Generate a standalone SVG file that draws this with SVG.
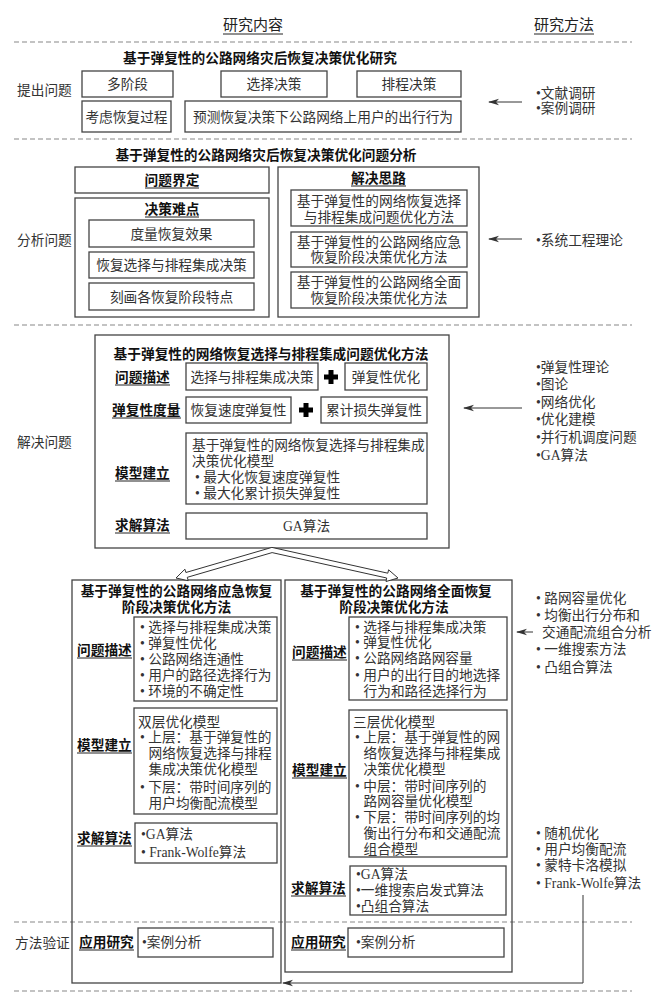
<svg xmlns="http://www.w3.org/2000/svg" width="670" height="1000" viewBox="0 0 670 1000">
<defs>
<style>
.t{font-family:"Liberation Serif","Noto Sans CJK SC",serif;font-size:13.7px;fill:#333}
.c{text-anchor:middle}
.b{font-family:"Liberation Sans","Noto Sans CJK SC",sans-serif;font-weight:bold;font-size:13.7px;fill:#111}
.h{font-family:"Liberation Serif","Noto Sans CJK SC",serif;font-size:15px;fill:#222}
.box{fill:#fff;stroke:#444;stroke-width:1.3}
.frame{fill:none;stroke:#444;stroke-width:1.3}
.ul{stroke:#222;stroke-width:1}
.dash{stroke:#888;stroke-width:1.2;stroke-dasharray:5 3;fill:none}
.conn{stroke:#333;stroke-width:1;fill:none}
.plus{stroke:#000;stroke-width:5;fill:none}
</style>
<marker id="ah" markerWidth="11" markerHeight="8" refX="10" refY="4" orient="auto" markerUnits="userSpaceOnUse"><path d="M0,0.8 L11,4 L0,7.2 L3,4 z" fill="#333"/></marker>
</defs>
<rect x="0" y="0" width="670" height="1000" fill="#fff"/>

<g id="separators">
<line class="dash" x1="14" y1="42" x2="632" y2="42"/>
<line class="dash" x1="14" y1="139" x2="632" y2="139"/>
<line class="dash" x1="14" y1="325" x2="632" y2="325"/>
<line class="dash" x1="14" y1="922" x2="632" y2="922"/>
<line class="dash" x1="14" y1="991" x2="632" y2="991"/>
</g>

<g id="header">
<text class="h c" x="253" y="30">研究内容</text>
<line class="ul" x1="223" y1="34" x2="283" y2="34"/>
<text class="h c" x="564" y="30">研究方法</text>
<line class="ul" x1="534" y1="34" x2="594" y2="34"/>
</g>

<g id="stage-labels">
<text class="t" x="17" y="95">提出问题</text>
<text class="t" x="17" y="245">分析问题</text>
<text class="t" x="17" y="447">解决问题</text>
<text class="t" x="15" y="948">方法验证</text>
</g>

<!-- Section 1 -->
<g id="title-research"><text class="b c" x="260" y="63">基于弹复性的公路网络灾后恢复决策优化研究</text></g>
<g id="n-multistage"><rect class="box" x="82" y="71" width="91" height="26"/><text class="t c" x="127.5" y="89">多阶段</text></g>
<g id="n-selection"><rect class="box" x="221" y="71" width="106" height="26"/><text class="t c" x="274" y="89">选择决策</text></g>
<g id="n-scheduling"><rect class="box" x="357" y="71" width="104" height="26"/><text class="t c" x="409" y="89">排程决策</text></g>
<g id="n-process"><rect class="box" x="82" y="101" width="89" height="31"/><text class="t c" x="126.5" y="121.5">考虑恢复过程</text></g>
<g id="n-predict"><rect class="box" x="185" y="101" width="276" height="31"/><text class="t c" x="323" y="121.5">预测恢复决策下公路网络上用户的出行行为</text></g>
<g id="m-1"><text class="t" x="536" y="98">•文献调研</text><text class="t" x="536" y="113">•案例调研</text></g>

<!-- Section 2 -->
<g id="title-analysis"><text class="b c" x="266" y="160">基于弹复性的公路网络灾后恢复决策优化问题分析</text></g>
<g id="n-definition"><rect class="box" x="75" y="167" width="194" height="26"/><text class="b c" x="172" y="185">问题界定</text><line class="ul" x1="145" y1="188" x2="199" y2="188"/></g>
<g id="n-difficulty">
<rect class="box" x="75" y="198" width="194" height="119"/>
<text class="b c" x="172" y="214">决策难点</text><line class="ul" x1="145" y1="217" x2="199" y2="217"/>
<rect class="box" x="89" y="220" width="165" height="27"/><text class="t c" x="171.5" y="238.5">度量恢复效果</text>
<rect class="box" x="89" y="252" width="165" height="26"/><text class="t c" x="171.5" y="270">恢复选择与排程集成决策</text>
<rect class="box" x="89" y="283" width="165" height="27"/><text class="t c" x="171.5" y="301.5">刻画各恢复阶段特点</text>
</g>
<g id="n-approach">
<rect class="box" x="278" y="167" width="201" height="150"/>
<text class="b c" x="378.5" y="183">解决思路</text><line class="ul" x1="351" y1="186" x2="406" y2="186"/>
<rect class="box" x="291" y="190" width="176" height="36"/><text class="t c" x="379" y="206">基于弹复性的网络恢复选择</text><text class="t c" x="379" y="222">与排程集成问题优化方法</text>
<rect class="box" x="291" y="232" width="176" height="35"/><text class="t c" x="379" y="247">基于弹复性的公路网络应急</text><text class="t c" x="379" y="262">恢复阶段决策优化方法</text>
<rect class="box" x="291" y="272" width="176" height="36"/><text class="t c" x="379" y="287">基于弹复性的公路网络全面</text><text class="t c" x="379" y="303">恢复阶段决策优化方法</text>
</g>
<g id="m-2"><text class="t" x="536" y="245">•系统工程理论</text></g>

<!-- Section 3 -->
<g id="n-integrated">
<rect class="box" x="95" y="335" width="354" height="213"/>
<text class="b c" x="271" y="359">基于弹复性的网络恢复选择与排程集成问题优化方法</text>
<text class="b" x="115" y="382">问题描述</text><line class="ul" x1="115" y1="385" x2="170" y2="385"/>
<rect class="box" x="186" y="363" width="132" height="27"/><text class="t c" x="252" y="381.5">选择与排程集成决策</text>
<path class="plus" d="M324,377 H338 M331,370 V384"/>
<rect class="box" x="345" y="363" width="82" height="27"/><text class="t c" x="386" y="381.5">弹复性优化</text>
<text class="b" x="112" y="415">弹复性度量</text><line class="ul" x1="112" y1="418" x2="181" y2="418"/>
<rect class="box" x="186" y="397" width="105" height="26"/><text class="t c" x="238.5" y="415">恢复速度弹复性</text>
<path class="plus" d="M299,410 H313 M306,403 V417"/>
<rect class="box" x="321" y="397" width="106" height="26"/><text class="t c" x="374" y="415">累计损失弹复性</text>
<text class="b" x="115" y="478">模型建立</text><line class="ul" x1="115" y1="481" x2="170" y2="481"/>
<rect class="box" x="186" y="433" width="241" height="71"/>
<text class="t" x="192" y="450">基于弹复性的网络恢复选择与排程集成</text>
<text class="t" x="192" y="466">决策优化模型</text>
<text class="t" x="195" y="482">• 最大化恢复速度弹复性</text>
<text class="t" x="195" y="498">• 最大化累计损失弹复性</text>
<text class="b" x="115" y="530">求解算法</text><line class="ul" x1="115" y1="533" x2="170" y2="533"/>
<rect class="box" x="186" y="513" width="241" height="26"/><text class="t c" x="306.5" y="531">GA算法</text>
</g>
<g id="m-3"><text class="t" x="536" y="372">•弹复性理论</text><text class="t" x="536" y="389">•图论</text><text class="t" x="536" y="407">•网络优化</text><text class="t" x="536" y="424">•优化建模</text><text class="t" x="536" y="442">•并行机调度问题</text><text class="t" x="536" y="460">•GA算法</text></g>

<!-- Section 4 left -->
<g id="n-emergency">
<rect class="frame" x="72" y="580" width="209" height="403"/>
<text class="b c" x="176.5" y="596">基于弹复性的公路网络应急恢复</text>
<text class="b c" x="176.5" y="612">阶段决策优化方法</text>
<text class="b" x="77" y="655">问题描述</text><line class="ul" x1="77" y1="658" x2="132" y2="658"/>
<rect class="box" x="134" y="617" width="143" height="84"/>
<text class="t" x="140" y="632">• 选择与排程集成决策</text>
<text class="t" x="140" y="648">• 弹复性优化</text>
<text class="t" x="140" y="664">• 公路网络连通性</text>
<text class="t" x="140" y="680">• 用户的路径选择行为</text>
<text class="t" x="140" y="696">• 环境的不确定性</text>
<text class="b" x="77" y="750">模型建立</text><line class="ul" x1="77" y1="753" x2="132" y2="753"/>
<rect class="box" x="134" y="708" width="143" height="106"/>
<text class="t" x="138" y="727">双层优化模型</text>
<text class="t" x="140" y="742">• 上层：基于弹复性的</text>
<text class="t" x="148.5" y="758">网络恢复选择与排程</text>
<text class="t" x="148.5" y="774">集成决策优化模型</text>
<text class="t" x="140" y="792">• 下层：带时间序列的</text>
<text class="t" x="148.5" y="808">用户均衡配流模型</text>
<text class="b" x="77" y="843">求解算法</text><line class="ul" x1="77" y1="846" x2="132" y2="846"/>
<rect class="box" x="135" y="823" width="142" height="40"/>
<text class="t" x="141" y="839">•GA算法</text>
<text class="t" x="141" y="857">• Frank-Wolfe算法</text>
<text class="b" x="79" y="947">应用研究</text><line class="ul" x1="79" y1="950" x2="134" y2="950"/>
<rect class="box" x="138" y="928" width="135" height="29"/>
<text class="t" x="142" y="947">•案例分析</text>
</g>

<!-- Section 4 right -->
<g id="n-full">
<rect class="frame" x="285" y="580" width="227" height="392"/>
<text class="b c" x="396" y="596">基于弹复性的公路网络全面恢复</text>
<text class="b c" x="394" y="612">阶段决策优化方法</text>
<text class="b" x="292" y="657">问题描述</text><line class="ul" x1="292" y1="660" x2="347" y2="660"/>
<rect class="box" x="349" y="617" width="158" height="83"/>
<text class="t" x="355" y="632">• 选择与排程集成决策</text>
<text class="t" x="355" y="647">• 弹复性优化</text>
<text class="t" x="355" y="663">• 公路网络路网容量</text>
<text class="t" x="355" y="680">• 用户的出行目的地选择</text>
<text class="t" x="363.5" y="696">行为和路径选择行为</text>
<text class="b" x="292" y="775">模型建立</text><line class="ul" x1="292" y1="778" x2="347" y2="778"/>
<rect class="box" x="349" y="710" width="158" height="147"/>
<text class="t" x="353" y="727">三层优化模型</text>
<text class="t" x="355" y="742">• 上层：基于弹复性的网</text>
<text class="t" x="363.5" y="758">络恢复选择与排程集成</text>
<text class="t" x="363.5" y="774">决策优化模型</text>
<text class="t" x="355" y="791">• 中层：带时间序列的</text>
<text class="t" x="363.5" y="806">路网容量优化模型</text>
<text class="t" x="355" y="822">• 下层：带时间序列的均</text>
<text class="t" x="363.5" y="838">衡出行分布和交通配流</text>
<text class="t" x="363.5" y="854">组合模型</text>
<text class="b" x="291" y="893">求解算法</text><line class="ul" x1="291" y1="896" x2="346" y2="896"/>
<rect class="box" x="350" y="866" width="156" height="49"/>
<text class="t" x="356" y="879">•GA算法</text>
<text class="t" x="356" y="895">•一维搜索启发式算法</text>
<text class="t" x="356" y="911">•凸组合算法</text>
<text class="b" x="291" y="947">应用研究</text><line class="ul" x1="291" y1="950" x2="346" y2="950"/>
<rect class="box" x="348" y="928" width="156" height="29"/>
<text class="t" x="356" y="947">•案例分析</text>
</g>
<g id="m-4a"><text class="t" x="536" y="603">• 路网容量优化</text><text class="t" x="536" y="620">• 均衡出行分布和</text><text class="t" x="542" y="637">交通配流组合分析</text><text class="t" x="536" y="654">• 一维搜索方法</text><text class="t" x="536" y="672">• 凸组合算法</text></g>
<g id="m-4b"><text class="t" x="536" y="838">• 随机优化</text><text class="t" x="536" y="854">• 用户均衡配流</text><text class="t" x="536" y="870">• 蒙特卡洛模拟</text><text class="t" x="536" y="888">• Frank-Wolfe算法</text></g>

<g id="connectors">
<line class="conn" x1="522" y1="102" x2="489" y2="102" marker-end="url(#ah)"/>
<line class="conn" x1="522" y1="239" x2="489" y2="239" marker-end="url(#ah)"/>
<line class="conn" x1="522" y1="408" x2="464" y2="408" marker-end="url(#ah)"/>
<line class="conn" x1="533" y1="632" x2="517" y2="632" marker-end="url(#ah)"/>
<path class="conn" d="M583,895 V983 H283" marker-end="url(#ah)"/>
<polygon fill="#fff" stroke="#333" stroke-width="1" points="271.9,547.4 387.8,573.2 388.6,569.8 398,578 386,581.5 386.7,578 272.1,552.6 187.3,577.3 188.2,580.7 176,578 184.9,569.2 185.9,572.5"/>
</g>
</svg>
